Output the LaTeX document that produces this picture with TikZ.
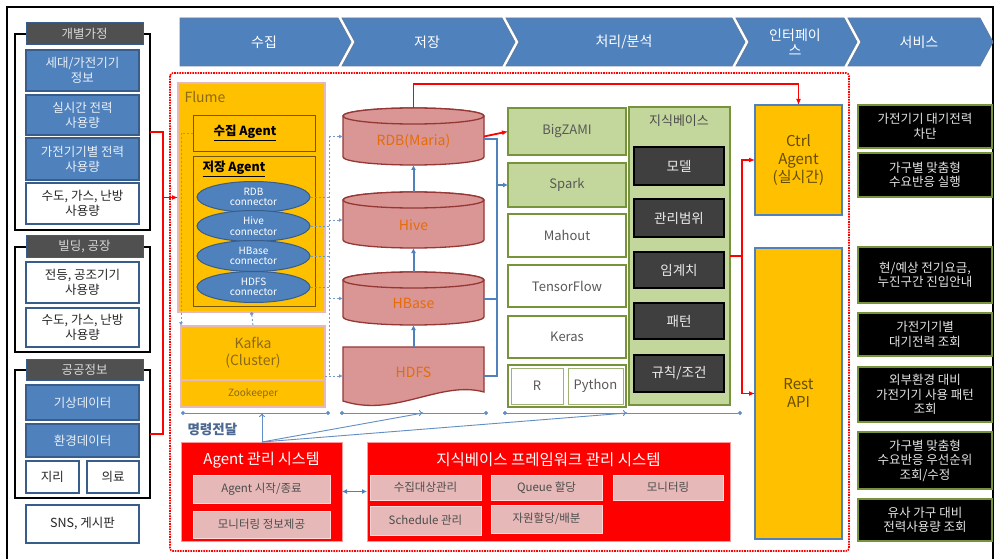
\documentclass[tikz,border=0pt]{standalone}
\usepackage{fontspec}
\setmainfont{Noto Sans CJK KR}
\usetikzlibrary{shapes.geometric,arrows.meta,calc}
\definecolor{cblue}{HTML}{4F81BD}
\definecolor{dblue}{HTML}{385D8A}
\definecolor{gtit}{HTML}{505050}
\definecolor{corange}{HTML}{FFC000}
\definecolor{cpink}{HTML}{E6B9B8}
\definecolor{cylfill}{HTML}{D99694}
\definecolor{cylline}{HTML}{953735}
\definecolor{cyltext}{HTML}{E46C0A}
\definecolor{cgreen}{HTML}{C3D69B}
\definecolor{dgreen}{HTML}{77933C}
\definecolor{ddark}{HTML}{3F3F3F}
\definecolor{ctxt}{HTML}{595959}
\definecolor{otxt}{HTML}{8A6A1A}
\definecolor{cmdtxt}{HTML}{4A6891}
\newcommand\fsz[2]{\fontsize{#1}{#2}\selectfont}
\newcommand\bx[7]{\node[#6,minimum width={(#4)-(#2)},minimum height={(#5)-(#3)}] (#1) at ({((#2)+(#4))/2},{((#3)+(#5))/2}) {#7};}
\newcommand\chev[5]{%
  \filldraw[chevsty] (#2,18) -- (#3,18) -- ({#3+13},42) -- (#3,66) -- (#2,66) #5 -- cycle;
  \node[chevtext] (#1) at ({(#2+#3)/2+5},42) {#4};}
\newcommand\cyl[6]{%
  \pgfmathsetmacro\cx{(#2+#4)/2}\pgfmathsetmacro\rx{(#4-#2)/2}
  \filldraw[cylsty] (#2,#3+8) -- (#2,#5-8) arc[start angle=180,end angle=0,x radius=\rx,y radius=8] -- (#4,#3+8) arc[start angle=0,end angle=-180,x radius=\rx,y radius=8] -- cycle;
  \filldraw[cylsty] (\cx,#3+8) ellipse[x radius=\rx,y radius=8];
  \node[minimum width={#4-#2},minimum height={#5-#3},inner sep=0,outer sep=0] (#1) at (\cx,{(#3+#5)/2}) {};
  \node[cyltxt] (#1t) at ($(#1.center)+(0,5)$) {#6};}
\tikzset{
  box/.style={inner sep=1pt,outer sep=0pt,align=center},
  chevsty/.style={fill=cblue,draw=dblue!80,line width=0.8},
  chevtext/.style={box,text=white,font=\fsz{14}{15}},
  gtitle/.style={box,fill=gtit,draw=dblue,line width=1,text=white!85!black,font=\fsz{12.5}{14}},
  bluebox/.style={box,fill=cblue,draw=dblue,line width=1.6,text=white!88!cblue,font=\fsz{12.5}{15}},
  whitebox/.style={box,fill=white,draw=dblue,line width=1.6,text=black!85,font=\fsz{12.5}{15}},
  frame/.style={box,draw=black,line width=1.8},
  orbox/.style={box,fill=corange,draw=cpink,line width=1.5,text=otxt},
  agbox/.style={box,fill=corange,draw=black!55!corange,line width=0.8},
  conn/.style={ellipse,fill=cblue,draw=dblue,line width=1,text=white,inner sep=0,font=\fsz{10}{10.5},align=center},
  cylsty/.style={fill=cylfill,draw=cylline,line width=1.3},
  cyltxt/.style={text=cyltext,font=\fsz{14}{16}},
  grbox/.style={box,fill=cgreen,draw=dgreen,line width=2,text=ctxt,font=\fsz{13}{15}},
  gwbox/.style={box,fill=white,draw=dgreen,line width=2,text=ctxt,font=\fsz{13}{15}},
  thinbox/.style={box,fill=white,draw=dgreen!70,line width=1,text=ctxt,font=\fsz{13}{15}},
  dkbox/.style={box,fill=ddark,draw=black,line width=1.2,text=white!92!black,font=\fsz{13.5}{15}},
  svc/.style={box,fill=black,draw=dgreen,line width=2,text=white!90!black,font=\fsz{12.5}{14.5}},
  ctbox/.style={box,fill=corange,draw=cblue,line width=1.5,text=black!60!corange,font=\fsz{15}{18}},
  redbox/.style={box,fill=red,draw=red!40,line width=1},
  pkbox/.style={box,fill=cpink,draw=red!15,line width=1,text=black!70,font=\fsz{11.5}{13}},
  rl/.style={red,line width=1.8},
  rarr/.style={rl,-{Latex[length=6pt,width=5pt]}},
  bdash/.style={cblue!80,line width=0.9,dash pattern=on 2pt off 2pt},
  barr/.style={bdash,-{Latex[length=4pt,width=4pt]}},
  bsolid/.style={cblue,line width=2,-{Latex[length=5pt,width=5pt]}},
  bline/.style={cblue!90,line width=0.9},
  dotline/.style={bline,{Circle[length=4pt]}-{Circle[length=4pt]}},
}
\begin{document}
\begin{tikzpicture}[x=1pt,y=-1pt]
\useasboundingbox (0,0) rectangle (997,559);
\fill[white] (0,0) rectangle (997,559);
\draw[black,line width=1.2] (7,7) rectangle (993,575);

% chevrons
\chev{ch1}{180}{338}{수집}{}
\chev{ch2}{342}{502}{저장}{-- (355,42)}
\chev{ch3}{506}{732}{처리/분석}{-- (519,42)}
\chev{ch4}{736}{844}{인터페이\\스}{-- (749,42)}
\chev{ch5}{848}{980}{서비스}{-- (861,42)}

% red dotted frame
\draw[red,line width=1.6,densely dotted,rounded corners=3] (170,73) rectangle (849,551);

% left column
\bx{g1}{15}{34}{150}{230}{frame}{}
\bx{g1t}{26}{23}{143}{45}{gtitle}{개별가정}
\bx{a1}{26}{50}{139}{91}{bluebox}{세대/가전기기\\정보}
\bx{a2}{26}{95}{139}{135}{bluebox}{실시간 전력\\사용량}
\bx{a3}{26}{138}{139}{180}{bluebox}{가전기기별 전력\\사용량}
\bx{a4}{26}{183}{139}{224}{whitebox}{수도, 가스, 난방\\사용량}
\bx{g2}{15}{247}{150}{352}{frame}{}
\bx{g2t}{26}{236}{143}{257}{gtitle}{빌딩, 공장}
\bx{b1}{26}{262}{139}{303}{whitebox}{전등, 공조기기\\사용량}
\bx{b2}{26}{308}{139}{347}{whitebox}{수도, 가스, 난방\\사용량}
\bx{g3}{15}{370}{150}{498}{frame}{}
\bx{g3t}{26}{359}{143}{380}{gtitle}{공공정보}
\bx{c1}{26}{385}{139}{420}{bluebox}{기상데이터}
\bx{c2}{26}{424}{139}{457}{bluebox}{환경데이터}
\bx{c3}{26}{461}{79}{493}{whitebox}{지리}
\bx{c4}{87}{461}{139}{493}{whitebox}{의료}
\bx{sns}{26}{505}{139}{543}{whitebox}{SNS, 게시판}

% Flume
\bx{flume}{178}{83}{325}{312}{orbox}{}
\node[anchor=west,text=otxt,font=\fsz{14}{16}] (flumel) at (181,97) {Flume};
\bx{sa}{193}{115}{315}{151}{agbox,font=\bfseries\fsz{12.5}{14}}{\underline{수집 Agent}\hspace*{18pt}}
\bx{ja}{193}{156}{315}{306}{agbox}{}
\node[anchor=west,font=\bfseries\fsz{12.5}{14}] (jal) at (199,169) {\underline{저장 Agent}};
\node[conn,minimum width=113,minimum height=31] (e1) at (253.5,197) {RDB\\connector};
\node[conn,minimum width=113,minimum height=31] (e2) at (253.5,226) {Hive\\connector};
\node[conn,minimum width=113,minimum height=31] (e3) at (253.5,256) {HBase\\connector};
\node[conn,minimum width=113,minimum height=31] (e4) at (253.5,287) {HDFS\\connector};

% Kafka
\bx{kafka}{181}{326}{325}{380}{orbox,font=\fsz{14}{17}}{Kafka\\(Cluster)}
\bx{zoo}{181}{380}{325}{407}{orbox,font=\fsz{10}{12}}{Zookeeper}

% cylinders
\cyl{rdb}{343}{108}{484}{165}{RDB(Maria)}
\cyl{hive}{343}{192}{484}{248}{Hive}
\cyl{hbase}{343}{272}{484}{325}{HBase}
\filldraw[cylsty] (343,347) -- (484,347) -- (484,392) .. controls (440,380) and (395,418) .. (343,401) -- cycle;
\node[minimum width=141,minimum height=58,inner sep=0,outer sep=0] (hdfs) at (413.5,376) {};
\node[cyltxt] (hdfst) at (413.5,372) {HDFS};

% analytics
\bx{bz}{508}{108}{626}{155}{grbox}{BigZAMI}
\bx{spark}{508}{163}{626}{207}{grbox}{Spark}
\bx{mahout}{508}{214}{626}{257}{gwbox}{Mahout}
\bx{tf}{508}{265}{626}{307}{gwbox}{TensorFlow}
\bx{keras}{508}{316}{626}{358}{gwbox}{Keras}
\bx{rp}{508}{365}{626}{407}{gwbox}{}
\bx{rr}{511}{368}{563}{404}{thinbox}{R}
\bx{py}{568}{368}{623}{404}{thinbox}{Python}

% knowledge base
\bx{kb}{629}{107}{730}{405}{grbox}{}
\node[text=black!70,font=\fsz{13}{15}] (kbt) at (679,121) {지식베이스};
\bx{k1}{634}{147}{724}{185}{dkbox}{모델}
\bx{k2}{634}{199}{724}{237}{dkbox}{관리범위}
\bx{k3}{634}{252}{724}{288}{dkbox}{임계치}
\bx{k4}{634}{303}{724}{339}{dkbox}{패턴}
\bx{k5}{634}{355}{724}{392}{dkbox}{규칙/조건}

% interface
\bx{ctrl}{755}{105}{842}{215}{ctbox}{Ctrl\\Agent\\(실시간)}
\bx{rest}{755}{248}{842}{539}{ctbox}{Rest\\API}

% services
\bx{s1}{858}{105}{992}{148}{svc}{가전기기 대기전력\\차단}
\bx{s2}{858}{153}{992}{197}{svc}{가구별 맞춤형\\수요반응 실행}
\bx{s3}{858}{247}{992}{303}{svc}{현/예상 전기요금,\\누진구간 진입안내}
\bx{s4}{858}{313}{992}{356}{svc}{가전기기별\\대기전력 조회}
\bx{s5}{858}{367}{992}{422}{svc}{외부환경 대비\\가전기기 사용 패턴\\조회}
\bx{s6}{858}{432}{992}{489}{svc}{가구별 맞춤형\\수요반응 우선순위\\조회/수정}
\bx{s7}{858}{499}{992}{541}{svc}{유사 가구 대비\\전력사용량 조회}

% bottom management systems
\bx{ams}{181}{442}{342}{541}{redbox}{}
\node[text=white,font=\fsz{15}{17}] (amst) at (261.5,460) {Agent 관리 시스템};
\bx{am1}{193}{475}{330}{503}{pkbox}{Agent 시작/종료}
\bx{am2}{193}{511}{330}{538}{pkbox}{모니터링 정보제공}
\bx{fw}{367}{442}{730}{541}{redbox}{}
\node[text=white,font=\fsz{15.5}{17}] (fwt) at (548.5,460) {지식베이스 프레임워크 관리 시스템};
\bx{f1}{370}{475}{481}{500}{pkbox}{수집대상관리}
\bx{f2}{491}{475}{602}{500}{pkbox}{Queue 할당}
\bx{f3}{613}{475}{723}{500}{pkbox}{모니터링}
\bx{f4}{370}{506}{481}{535}{pkbox}{Schedule 관리}
\bx{f5}{491}{505}{602}{533}{pkbox}{자원할당/배분}

% red connectors left
\coordinate (lr) at (163,132);
\draw[rl] (g1.east |- lr) -- (lr) |- (g3.east);
\draw[rarr] (lr |- flume.west) -- (flume.west);

% dashed blue in flume
\coordinate (fl) at (181,133);
\draw[bdash] (sa.west |- fl) -- (fl);
\draw[barr] (fl) -- (fl |- kafka.north);
\draw[bdash,{Circle[length=3.5pt]}-] (flume.south) -- (kafka.north);
\coordinate (busr) at (329,137);
\draw[bdash] (busr |- rdb.west) -- (busr |- hdfs.west);
\foreach \e in {e1,e2,e3,e4} \draw[bdash] (\e.east) -- (\e.east -| busr);
\foreach \c in {rdb,hive,hbase,hdfs} \draw[barr] (busr |- \c.west) -- (\c.west);
\draw[bdash] (kafka.east |- hdfs.west) -- (busr |- hdfs.west);

% storage arrows
\draw[bsolid] (hdfs.north) -- (hbase.south);
\draw[bsolid] (hbase.north) -- (hive.south);
\draw[bsolid] (hive.north) -- (rdb.south);
\coordinate (bb) at (497,139);
\draw[cblue,line width=2] (rdb.east |- bb) -- (bb) -- (bb |- hdfs.east) -- (hdfs.east);
\draw[cblue,line width=2] (hbase.east) -- (hbase.east -| bb);
\draw[bsolid] (bb |- spark.west) -- (spark.west);
\draw[rarr] (rdb.east) -- (bz.west);
\draw[rarr] (rdb.north) -- ++(0,-24) -| (ctrl.north);

% knowledge base to interface
\coordinate (rj) at (742,256);
\draw[rl] (kb.east) -- (rj);
\draw[rarr] (rj) |- (ctrl.west);
\draw[rarr] (rj) |- (rest.west);

% command line
\coordinate (d1) at (181,413);
\coordinate (d2) at (330,413);
\coordinate (d3) at (340,413);
\coordinate (m1) at (423,413);
\coordinate (d4) at (488,413);
\coordinate (d5) at (503,413);
\coordinate (m2) at (627,413);
\coordinate (d6) at (742,413);
\draw[dotline] (d1) -- (d2);
\draw[dotline] (d3) -- (d4);
\draw[dotline] (d5) -- (d6);
\draw[bline,-{To[length=4pt,width=6pt]}] (d3) -- (m1);
\draw[bline,-{To[length=4pt,width=6pt]}] (d5) -- (m2);
\node[anchor=west,text=cmdtxt,font=\bfseries\fsz{13.5}{15}] (cmd) at (184,429) {명령전달};
\coordinate (cp) at (262,442);
\draw[bline,-{To[length=4pt,width=6pt]}] (cp) -- (cp |- d1);
\draw[bline] (cp) -- (m1);
\draw[bline] (cp) -- (m2);
\draw[cblue,line width=1.2,{Latex[length=5pt,width=5pt]}-{Latex[length=5pt,width=5pt]}] (ams.east) -- (fw.west);
\end{tikzpicture}
\end{document}
